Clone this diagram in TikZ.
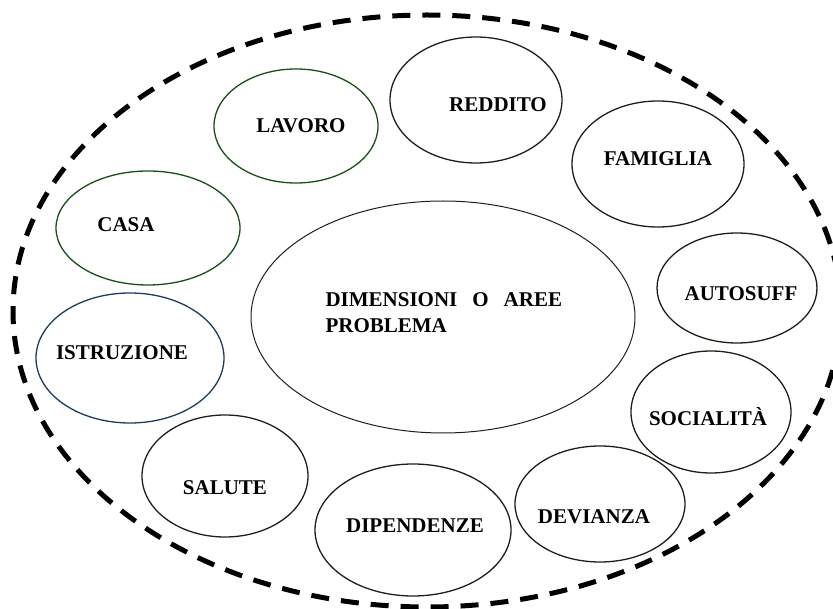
\documentclass[tikz,border=0pt]{standalone}
\usepackage{fontspec}
\setmainfont{Liberation Serif}
\usetikzlibrary{shapes.geometric}
\definecolor{areagreen}{HTML}{1A4D1A}
\definecolor{areanavy}{HTML}{1F3B5C}
\definecolor{areaink}{HTML}{221E16}
\begin{document}
\begin{tikzpicture}[x=1pt,y=-1pt,
    area/.style={ellipse,draw=areaink,line width=1.3pt,inner sep=0pt},
    lbl/.style={anchor=base,font=\fontsize{21}{26}\selectfont\bfseries}]
  \useasboundingbox (0,0) rectangle (833,609);
  % cornice tratteggiata
  \draw[line width=5pt,dash pattern=on 18pt off 12pt] (427,311) ellipse [x radius=414, y radius=296];
  % area centrale
  \node[area,line width=1pt,minimum width=384pt,minimum height=232pt] (centro) at (443,317) {};
  \node[anchor=base west,align=left,font=\fontsize{21}{26}\selectfont\bfseries] (centro-t) at (322,333)
    {DIMENSIONI\hspace{15pt}O\hspace{15pt}AREE\\PROBLEMA};
  % aree intorno
  \node[area,draw=areagreen,minimum width=164pt,minimum height=114pt] (lavoro) at (296,126) {};
  \node[area,draw=areagreen,minimum width=184pt,minimum height=114pt] (casa) at (148,228) {};
  \node[area,draw=areanavy,minimum width=188pt,minimum height=130pt] (istruzione) at (130,358) {};
  \node[area,minimum width=166pt,minimum height=122pt] (salute) at (225,476) {};
  \node[area,minimum width=196pt,minimum height=132pt] (dipendenze) at (413,530) {};
  \node[area,minimum width=170pt,minimum height=116pt] (devianza) at (600,504) {};
  \node[area,minimum width=160pt,minimum height=122pt] (socialita) at (711,412) {};
  \node[area,minimum width=160pt,minimum height=110pt] (autosuff) at (737,288) {};
  \node[area,minimum width=172pt,minimum height=126pt] (famiglia) at (658,164) {};
  \node[area,minimum width=172pt,minimum height=126pt] (reddito) at (476,100) {};
  % etichette
  \node[lbl] (lavoro-t) at (301,133) {LAVORO};
  \node[lbl] (casa-t) at (126,232) {CASA};
  \node[lbl] (istruzione-t) at (122,360) {ISTRUZIONE};
  \node[lbl] (salute-t) at (225,494) {SALUTE};
  \node[lbl] (dipendenze-t) at (415,532) {DIPENDENZE};
  \node[lbl] (devianza-t) at (594,523) {DEVIANZA};
  \node[lbl] (socialita-t) at (708,426) {SOCIALITÀ};
  \node[lbl] (autosuff-t) at (741,301) {AUTOSUFF};
  \node[lbl] (famiglia-t) at (658,166) {FAMIGLIA};
  \node[lbl] (reddito-t) at (498,112) {REDDITO};
\end{tikzpicture}
\end{document}
